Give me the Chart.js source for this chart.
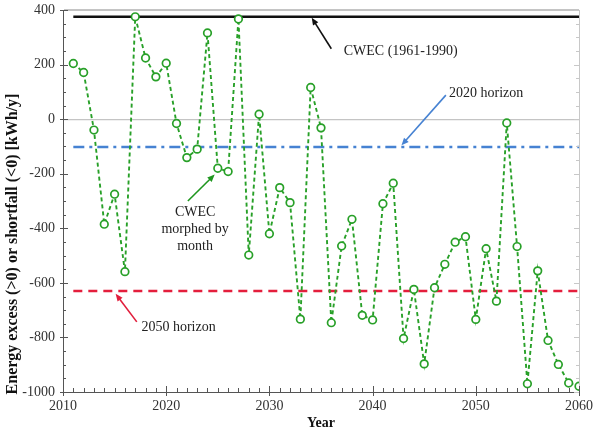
<!DOCTYPE html>
<html>
<head>
<meta charset="utf-8">
<script src="https://cdn.jsdelivr.net/npm/chart.js@4.4.1/dist/chart.umd.min.js"></script>
<style>
  html, body { margin: 0; padding: 0; background: #fff; }
  #wrap { width: 594px; height: 436px; }
</style>
</head>
<body>
<div id="wrap"><canvas id="energyChart"></canvas></div>
<script>
// yearly energy excess / shortfall, CWEC morphed by month
var years = [];
for (var y = 2011; y <= 2060; y++) years.push(y);
var energy = [
    204, 171, -40, -385, -275, -559, 375, 224, 155, 205,
    -16, -141, -110, 316, -180, -192, 367, -498, 18, -420,
    -251, -306, -733, 116, -32, -746, -465, -367, -719, -736,
    -310, -235, -804, -624, -897, -618, -532, -451, -431, -734,
    -475, -667, -14, -467, -970, -556, -811, -899, -967, -979
];

// reference levels
var cwecLevel = 375;
var horizon2020 = -102;
var horizon2050 = -630;
var lineYears = [2011, 2060];

var yTicks = [400, 200, 0, -200, -400, -600, -800, -1000];
var xTicks = [2010, 2020, 2030, 2040, 2050, 2060];
var yTitle = "Energy excess (>0) or shortfall (<0) [kWh/y]";

// notes: text position and arrow (from -> to) in data units
var notes = [
    { lines: ["CWEC (1961-1990)"], tx: 2037.2, ty: 250, ax: 2036.0, ay: 258, bx: 2034.1, by: 372, color: "#111", align: "left" },
    { lines: ["2020 horizon"], tx: 2047.4, ty: 96, ax: 2047.1, ay: 88, bx: 2042.8, by: -96, color: "rgb(70,130,210)", align: "left" },
    { lines: ["CWEC", "morphed by", "month"], tx: 2022.8, ty: -343, ax: 2022.1, ay: -300, bx: 2024.7, by: -203, color: "rgb(30,150,30)", align: "center" },
    { lines: ["2050 horizon"], tx: 2017.6, ty: -762, ax: 2017.15, ay: -743, bx: 2015.1, by: -640, color: "rgb(225,30,60)", align: "left" }
];

var serif = "'Liberation Serif', 'DejaVu Serif', serif";

function hline(val) {
    return lineYears.map(function (yr) { return { x: yr, y: val }; });
}

var extras = {
    id: "extras",
    afterDraw: function (chart) {
        var ctx = chart.ctx;
        var xs = chart.scales.x, ys = chart.scales.y;
        var area = chart.chartArea;
        ctx.save();
        // right axis line with ticks
        ctx.strokeStyle = "#c8c8c8";
        ctx.lineWidth = 1;
        ctx.beginPath();
        ctx.moveTo(area.right + 0.5, area.top);
        ctx.lineTo(area.right + 0.5, area.bottom);
        ctx.stroke();
        for (var v = -1000; v <= 400; v += 50) {
            var py = Math.round(ys.getPixelForValue(v)) + 0.5;
            var len = v % 200 === 0 ? 5 : 3;
            ctx.beginPath();
            ctx.moveTo(area.right - len, py);
            ctx.lineTo(area.right, py);
            ctx.stroke();
        }
        // left axis minor ticks (inside)
        ctx.strokeStyle = "#555";
        for (var v2 = -1000; v2 <= 400; v2 += 50) {
            var py2 = Math.round(ys.getPixelForValue(v2)) + 0.5;
            var len2 = v2 % 200 === 0 ? 5 : 3;
            ctx.beginPath();
            ctx.moveTo(area.left - (v2 % 200 === 0 ? 3 : 0), py2);
            ctx.lineTo(area.left + len2, py2);
            ctx.stroke();
        }
        // bottom axis ticks (yearly)
        for (var yr = 2010; yr <= 2060; yr++) {
            var px = Math.round(xs.getPixelForValue(yr)) + 0.5;
            var major = yr % 10 === 0;
            ctx.beginPath();
            ctx.moveTo(px, area.bottom + (major ? 4 : 0));
            ctx.lineTo(px, area.bottom - (major ? 6 : 4));
            ctx.stroke();
        }
        // y axis title, sits a little low as in the original
        ctx.save();
        ctx.translate(13, 244);
        ctx.rotate(-Math.PI / 2);
        ctx.fillStyle = "#111";
        ctx.font = "bold 16px " + serif;
        ctx.textAlign = "center";
        ctx.textBaseline = "middle";
        ctx.fillText(yTitle, 0, 0);
        ctx.restore();
        // annotations
        notes.forEach(function (n) {
            var x0 = xs.getPixelForValue(n.ax), y0 = ys.getPixelForValue(n.ay);
            var x1 = xs.getPixelForValue(n.bx), y1 = ys.getPixelForValue(n.by);
            var ang = Math.atan2(y1 - y0, x1 - x0);
            ctx.strokeStyle = n.color;
            ctx.fillStyle = n.color;
            ctx.lineWidth = 1.6;
            ctx.beginPath();
            ctx.moveTo(x0, y0);
            ctx.lineTo(x1 - 5 * Math.cos(ang), y1 - 5 * Math.sin(ang));
            ctx.stroke();
            ctx.beginPath();
            ctx.moveTo(x1, y1);
            ctx.lineTo(x1 - 8 * Math.cos(ang - 0.4), y1 - 8 * Math.sin(ang - 0.4));
            ctx.lineTo(x1 - 8 * Math.cos(ang + 0.4), y1 - 8 * Math.sin(ang + 0.4));
            ctx.closePath();
            ctx.fill();
            ctx.fillStyle = "#222";
            ctx.font = "14px " + serif;
            ctx.textAlign = n.align;
            ctx.textBaseline = "middle";
            var tx = xs.getPixelForValue(n.tx), ty = ys.getPixelForValue(n.ty);
            n.lines.forEach(function (line, i) {
                ctx.fillText(line, tx, ty + i * 17);
            });
        });
        ctx.restore();
    }
};

var ctx = document.getElementById("energyChart").getContext("2d");
var chart = new Chart(ctx, {
    type: "line",
    data: {
        datasets: [
            {
                label: "CWEC (1961-1990)",
                data: hline(cwecLevel),
                borderColor: "#111",
                borderWidth: 2.5,
                pointRadius: 0,
                order: 3,
            },
            {
                label: "2020 horizon",
                data: hline(horizon2020),
                borderColor: "rgb(70,130,210)",
                borderWidth: 2.5,
                borderDash: [11, 5, 3, 5],
                pointRadius: 0,
                order: 3,
            },
            {
                label: "2050 horizon",
                data: hline(horizon2050),
                borderColor: "rgb(228,30,60)",
                borderWidth: 2.5,
                borderDash: [9, 6],
                pointRadius: 0,
                order: 3,
            },
            {
                label: "CWEC morphed by month",
                data: years.map(function (yr, i) { return { x: yr, y: energy[i] }; }),
                borderColor: "rgb(40,160,40)",
                borderWidth: 1.9,
                borderDash: [4, 3],
                pointRadius: 3.8,
                pointBorderWidth: 1.7,
                pointBackgroundColor: "#fff",
                pointBorderColor: "rgb(40,160,40)",
                order: 1,
            },
        ],
    },
    options: {
        responsive: true,
        maintainAspectRatio: false,
        animation: false,
        layout: { padding: { top: 10, right: 15, left: 0, bottom: 0 } },
        plugins: {
            legend: { display: false },
            tooltip: { enabled: false },
        },
        scales: {
            x: {
                type: "linear",
                min: 2010,
                max: 2060,
                afterBuildTicks: function (scale) {
                    scale.ticks = xTicks.map(function (v) { return { value: v }; });
                },
                afterFit: function (scale) {
                    scale.height = 44;
                    scale.paddingLeft = 0;
                    scale.paddingRight = 0;
                },
                grid: { display: false, drawTicks: false },
                border: { color: "#555", width: 1 },
                ticks: {
                    color: "#333",
                    padding: 6,
                    font: { family: serif, size: 14 },
                    callback: function (v) { return String(v); },
                },
                title: {
                    display: true,
                    text: "Year",
                    color: "#111",
                    padding: { top: 0, bottom: 4 },
                    font: { family: serif, size: 14, weight: "bold" },
                },
            },
            y: {
                min: -1000,
                max: 400,
                afterBuildTicks: function (scale) {
                    scale.ticks = yTicks.map(function (v) { return { value: v }; });
                },
                afterFit: function (scale) {
                    scale.width = 63;
                    scale.paddingTop = 0;
                    scale.paddingBottom = 0;
                },
                grid: {
                    drawTicks: false,
                    color: function (c) {
                        return c.tick && (c.tick.value === 0 || c.tick.value === 400) ? "#c4c4c4" : "rgba(0,0,0,0)";
                    },
                    lineWidth: function (c) {
                        return c.tick && c.tick.value === 400 ? 2 : 1.2;
                    },
                },
                border: { color: "#555", width: 1 },
                ticks: {
                    color: "#333",
                    padding: 8,
                    font: { family: serif, size: 14 },
                    callback: function (v) { return String(v); },
                },
            },
        },
    },
    plugins: [extras],
});
</script>
</body>
</html>
